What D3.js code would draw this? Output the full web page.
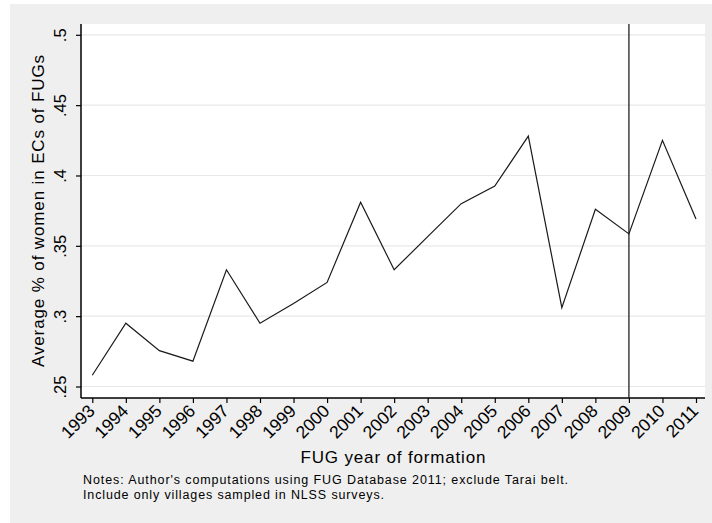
<!DOCTYPE html>
<html>
<head>
<meta charset="utf-8">
<script src="https://cdn.jsdelivr.net/npm/d3@7"></script>
<style>
  body { margin: 0; background: #fff; }
  text { font-family: "Liberation Sans", Arial, sans-serif; fill: #000; }
</style>
</head>
<body>
<div id="container"></div>
<script>
// chart values
var years = [1993, 1994, 1995, 1996, 1997, 1998, 1999, 2000, 2001, 2002,
             2003, 2004, 2005, 2006, 2007, 2008, 2009, 2010, 2011];
var shareWomen = [0.258, 0.295, 0.2755, 0.268, 0.333, 0.295, 0.309, 0.324, 0.381, 0.333,
                  0.3565, 0.380, 0.3925, 0.428, 0.306, 0.376, 0.3585, 0.425, 0.369];
var yTicks = [0.25, 0.3, 0.35, 0.4, 0.45, 0.5];
var yTickLabels = [".25", ".3", ".35", ".4", ".45", ".5"];
var markYear = 2009;
var xTitle = "FUG year of formation";
var yTitle = "Average % of women in ECs of FUGs";
var notes = ["Notes: Author's computations using FUG Database 2011; exclude Tarai belt.",
             "Include only villages sampled in NLSS surveys."];

var W = 712, H = 523;
var plot = {left: 81, right: 705, top: 24, bottom: 398};

var svg = d3.select("#container").append("svg")
	.attr("width", W)
	.attr("height", H);

// outer graph region
svg.append("rect")
	.attr("x", 10).attr("y", 4)
	.attr("width", W - 10).attr("height", H - 4)
	.attr("fill", "#efefef");

// plot region
svg.append("rect")
	.attr("x", plot.left).attr("y", plot.top)
	.attr("width", plot.right - plot.left).attr("height", plot.bottom - plot.top)
	.attr("fill", "#fff");

var x = d3.scaleLinear().domain([1993, 2011]).range([92.3, 696]);
var y = d3.scaleLinear().domain([0.25, 0.5]).range([386.5, 34.8]);

// grid lines
svg.append("g")
	.selectAll("line").data(yTicks).enter()
	.append("line")
	.attr("x1", plot.left).attr("x2", plot.right)
	.attr("y1", function(d) { return y(d); })
	.attr("y2", function(d) { return y(d); })
	.attr("stroke", "#e8e8e8")
	.attr("stroke-width", 1.2);

// y axis
var yAxis = d3.axisLeft(y)
	.tickValues(yTicks)
	.tickSize(5)
	.tickFormat(function(d, i) { return yTickLabels[i]; });

var gy = svg.append("g")
	.attr("transform", "translate(" + plot.left + ",0)")
	.call(yAxis);
gy.select(".domain").remove();
gy.selectAll(".tick line").attr("stroke", "#000").attr("stroke-width", 1.2);
gy.selectAll(".tick text")
	.attr("x", null).attr("dy", null)
	.attr("transform", "translate(-15,0) rotate(-90)")
	.style("text-anchor", "middle")
	.style("font-size", "16.5px")
	.style("font-family", "Liberation Sans, Arial, sans-serif");
gy.append("line")
	.attr("x1", 0).attr("x2", 0)
	.attr("y1", plot.top).attr("y2", plot.bottom)
	.attr("stroke", "#000").attr("stroke-width", 1.5);

// x axis
var xAxis = d3.axisBottom(x)
	.tickValues(years)
	.tickSize(5)
	.tickFormat(d3.format("d"));

var gx = svg.append("g")
	.attr("transform", "translate(0," + plot.bottom + ")")
	.call(xAxis);
gx.select(".domain").remove();
gx.selectAll(".tick line").attr("stroke", "#000").attr("stroke-width", 1.2);
gx.selectAll(".tick text")
	.attr("y", null).attr("dy", null)
	.attr("transform", "translate(3,14) rotate(-45)")
	.style("text-anchor", "end")
	.style("font-size", "17.5px")
	.style("font-family", "Liberation Sans, Arial, sans-serif");
gx.append("line")
	.attr("x1", plot.left).attr("x2", plot.right)
	.attr("y1", 0).attr("y2", 0)
	.attr("stroke", "#000").attr("stroke-width", 1.5);

// reference line
svg.append("line")
	.attr("x1", x(markYear)).attr("x2", x(markYear))
	.attr("y1", plot.top).attr("y2", plot.bottom)
	.attr("stroke", "#222").attr("stroke-width", 1.3);

// series
var lineFunc = d3.line()
	.x(function(d, i) { return x(years[i]); })
	.y(function(d) { return y(d); });

svg.append("path")
	.attr("d", lineFunc(shareWomen))
	.attr("fill", "none")
	.attr("stroke", "#1a1a1a")
	.attr("stroke-width", 1.2);

// titles
svg.append("text")
	.attr("x", (plot.left + plot.right) / 2)
	.attr("y", 463)
	.style("text-anchor", "middle")
	.style("font-size", "17px")
	.attr("textLength", 185)
	.text(xTitle);

svg.append("text")
	.attr("transform", "translate(44," + ((plot.top + plot.bottom) / 2) + ") rotate(-90)")
	.style("text-anchor", "middle")
	.style("font-size", "17px")
	.attr("textLength", 312)
	.text(yTitle);

svg.append("g")
	.selectAll("text").data(notes).enter()
	.append("text")
	.attr("x", 83)
	.attr("y", function(d, i) { return 484 + i * 15; })
	.style("font-size", "12.5px")
	.attr("textLength", function(d, i) { return i === 0 ? 485 : 301; })
	.text(function(d) { return d; });
</script>
</body>
</html>
